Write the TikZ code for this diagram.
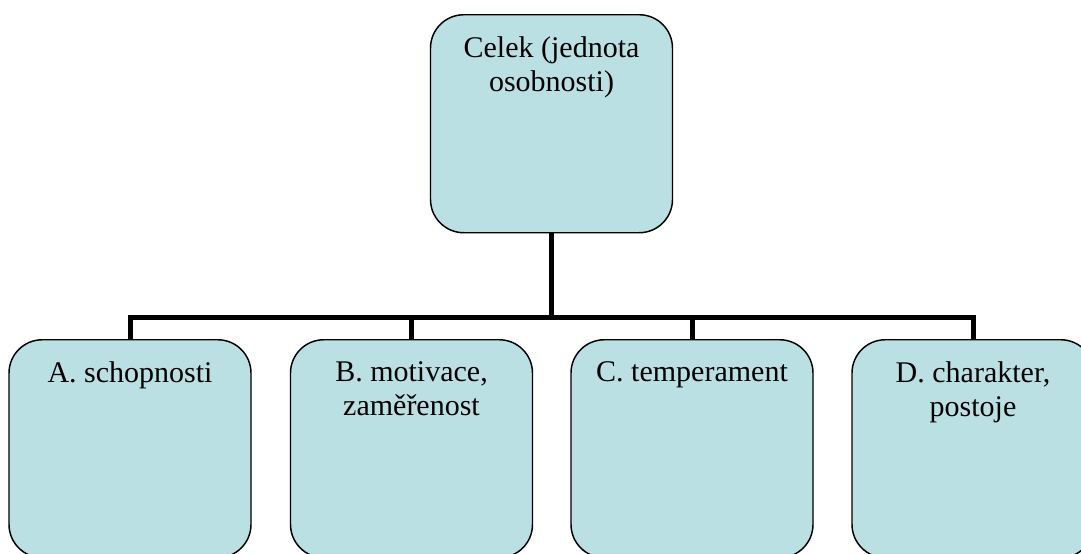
\documentclass[tikz,border=0pt]{standalone}
\usepackage{fontspec}
\setmainfont{Liberation Serif}
\definecolor{boxfill}{RGB}{187,224,227}
\begin{document}
\begin{tikzpicture}[x=0.75pt,y=-0.75pt,
  box/.style={draw=black,line width=1.1pt,fill=boxfill,rounded corners=25pt,
    minimum width=181.5pt,minimum height=163.5pt,inner sep=0pt,anchor=north},
  lbl/.style={anchor=north,align=center,inner sep=0pt,
    font=\fontsize{22.5}{25.5}\selectfont},
  conn/.style={draw=black,line width=3.75pt,line join=miter}]
\clip (0,0) rectangle (1081,553);
\node[box] (top) at (551.5,14) {};
\node[box] (A) at (130,339) {};
\node[box] (B) at (411.5,339) {};
\node[box] (C) at (692,339) {};
\node[box] (D) at (973,339) {};
\node[lbl] (tT) at ([yshift=-17pt]top.north) {Celek (jednota\\osobnosti)};
\node[lbl] (tA) at ([yshift=-17pt]A.north) {A. schopnosti};
\node[lbl] (tB) at ([yshift=-17pt]B.north) {B. motivace,\\zaměřenost};
\node[lbl] (tC) at ([yshift=-17pt]C.north) {C. temperament};
\node[lbl] (tD) at ([yshift=-17pt]D.north) {D. charakter,\\postoje};
\coordinate (bus) at (551.5,317);
\coordinate (busA) at (130,317);
\coordinate (busD) at (973,317);
\draw[conn] (top.south) -- (bus);
\draw[conn] (A.north) -- (busA) -- (busD) -- (D.north);
\draw[conn] (B.north) -- (B.north |- bus);
\draw[conn] (C.north) -- (C.north |- bus);
\end{tikzpicture}
\end{document}
